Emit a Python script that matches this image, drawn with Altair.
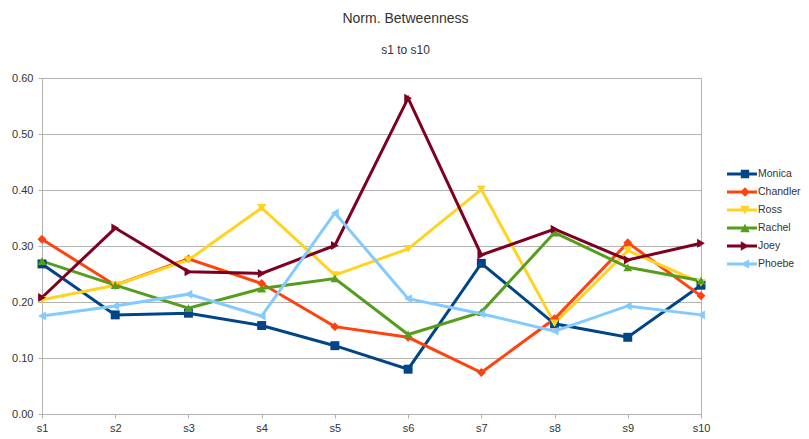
import altair as alt
import pandas as pd

sessions = ["s1", "s2", "s3", "s4", "s5", "s6", "s7", "s8", "s9", "s10"]
names = ["Monica", "Chandler", "Ross", "Rachel", "Joey", "Phoebe"]

monica = [0.268, 0.177, 0.180, 0.158, 0.122, 0.080, 0.269, 0.161, 0.137, 0.230]
chandler = [0.312, 0.230, 0.277, 0.233, 0.156, 0.137, 0.074, 0.170, 0.306, 0.211]
ross = [0.204, 0.230, 0.275, 0.368, 0.248, 0.295, 0.401, 0.162, 0.292, 0.234]
rachel = [0.273, 0.230, 0.189, 0.224, 0.242, 0.142, 0.182, 0.324, 0.262, 0.238]
joey = [0.208, 0.332, 0.254, 0.251, 0.301, 0.564, 0.284, 0.330, 0.275, 0.305]
phoebe = [0.175, 0.193, 0.214, 0.175, 0.359, 0.206, 0.179, 0.148, 0.193, 0.177]

colors = ["#004586", "#ff420e", "#ffd320", "#579d1c", "#7e0021", "#83caff"]
marker_shapes = ["square", "diamond", "triangle-down", "triangle-up", "triangle-right", "triangle-left"]
y_ticks = [0.0, 0.1, 0.2, 0.3, 0.4, 0.5, 0.6]

LINE = "M-4,-0.25L1,-0.25L1,0.25L-4,0.25Z"
legend_paths = [
    LINE + "M-1.7,-0.7L-0.3,-0.7L-0.3,0.7L-1.7,0.7Z",
    LINE + "M-1,-0.8L-0.2,0L-1,0.8L-1.8,0Z",
    LINE + "M-1.8,-0.7L-0.2,-0.7L-1,0.7Z",
    LINE + "M-1,-0.7L-0.2,0.7L-1.8,0.7Z",
    LINE + "M-1.7,-0.8L-0.3,0L-1.7,0.8Z",
    LINE + "M-0.3,-0.8L-0.3,0.8L-1.7,0Z",
]

series = [monica, chandler, ross, rachel, joey, phoebe]
rows = []
for n, vals in zip(names, series):
    for i, (s, v) in enumerate(zip(sessions, vals)):
        rows.append({"session": s, "idx": i, "name": n, "value": v})
df = pd.DataFrame(rows)

FONT = "Liberation Sans"
GRID = "#b3b3b3"

x_enc = alt.X(
    "session:N",
    sort=sessions,
    scale=alt.Scale(domain=sessions, type="point", padding=0),
    axis=alt.Axis(title=None, labelAngle=0, grid=False, domainColor=GRID, tickColor=GRID,
                  tickSize=4, labelPadding=4, labelFont=FONT, labelFontSize=11, labelColor="#333333"),
)
y_enc = alt.Y(
    "value:Q",
    scale=alt.Scale(domain=[0, 0.6], nice=False, zero=True),
    axis=alt.Axis(title=None, values=y_ticks, format=".2f", grid=True, gridColor=GRID,
                  domainColor=GRID, tickColor=GRID, tickSize=4, labelPadding=5,
                  labelFont=FONT, labelFontSize=11, labelColor="#333333"),
)

base = alt.Chart(df)

lines = base.mark_line(strokeWidth=3).encode(
    x=x_enc, y=y_enc,
    color=alt.Color("name:N", scale=alt.Scale(domain=names, range=colors), legend=None),
    detail="name:N",
    order=alt.Order("idx:Q"),
)

points = base.mark_point(filled=True, size=80, opacity=1).encode(
    x=x_enc, y=y_enc,
    color=alt.Color("name:N", scale=alt.Scale(domain=names, range=colors), legend=None),
    shape=alt.Shape("name:N", scale=alt.Scale(domain=names, range=marker_shapes), legend=None),
)

leg = alt.Legend(title=None, orient="none", legendX=703, legendY=90, symbolSize=144,
                 labelFont=FONT, labelFontSize=10.5, labelColor="#333333", labelOffset=1,
                 rowPadding=6, padding=0, symbolStrokeWidth=0, symbolOpacity=1)

legend_layer = base.transform_filter(alt.datum.value < -1).mark_point(filled=True, opacity=1).encode(
    x=x_enc, y=y_enc,
    color=alt.Color("name:N", scale=alt.Scale(domain=names, range=colors), legend=leg),
    shape=alt.Shape("name:N", scale=alt.Scale(domain=names, range=legend_paths), legend=leg),
)

chart = alt.layer(lines, points, legend_layer).resolve_scale(
    color="independent", shape="independent"
).properties(
    width=659,
    height=336,
    autosize="none",
    padding={"left": 34, "top": 70, "right": 100, "bottom": 23},
    title=alt.TitleParams(
        text="Norm. Betweenness", subtitle="s1 to s10",
        font=FONT, subtitleFont=FONT, fontSize=14, subtitleFontSize=12,
        fontWeight="normal", color="#333333", subtitleColor="#333333",
        anchor="middle", dx=34, offset=16, subtitlePadding=19,
    ),
).configure_view(stroke=GRID)

chart.save("out.html", embed_options={"renderer": "svg", "actions": False})
